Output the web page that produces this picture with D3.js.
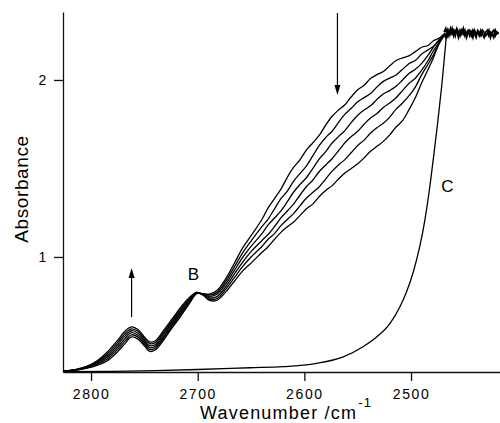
<html>
<head>
<meta charset="utf-8">
<style>
  body { margin: 0; background: #fff; }
  svg { display: block; font-family: "Liberation Sans", Arial, sans-serif; }
  .tick text { font-size: 14px; letter-spacing: 1.6px; fill: #000; }
  .domain, .tick line { stroke: #111; stroke-width: 1.3; }
</style>
</head>
<body>
<script src="https://cdn.jsdelivr.net/npm/d3@7"></script>
<script>
// wavenumber grid (cm-1) shared by the six spectra
const wavenumber = [2826, 2815, 2805, 2795, 2785, 2775, 2768, 2762, 2756, 2750,
  2745, 2740, 2732, 2724, 2716, 2708, 2701, 2695, 2689, 2682,
  2674, 2666, 2658, 2650, 2640, 2634, 2628, 2622, 2616, 2610,
  2604, 2598, 2592, 2586, 2580, 2574, 2568, 2562, 2556, 2550,
  2544, 2538, 2532, 2526, 2520, 2514, 2508, 2502, 2496, 2490,
  2484, 2479, 2474, 2468];

const spectrum1 = [0.355,0.360,0.370,0.386,0.412,0.465,0.512,0.548,0.536,0.498,0.466,0.474,0.530,0.600,0.665,0.735,0.792,0.792,0.790,0.810,0.875,0.960,1.050,1.120,
  1.210,1.277,1.330,1.383,1.450,1.507,1.550,1.605,1.645,1.688,1.745,1.795,1.830,1.860,1.905,1.945,1.970,2.008,2.030,2.048,2.080,2.110,2.125,2.136,2.160,2.185,2.195,2.222,2.235,2.265];
const spectrum2 = [0.355,0.360,0.372,0.391,0.422,0.478,0.526,0.560,0.547,0.508,0.477,0.484,0.540,0.610,0.675,0.742,0.795,0.791,0.784,0.800,0.860,0.940,1.022,1.090,
  1.170,1.214,1.272,1.329,1.372,1.429,1.472,1.515,1.572,1.630,1.675,1.710,1.760,1.807,1.840,1.877,1.900,1.923,1.960,1.992,2.010,2.028,2.060,2.092,2.110,2.147,2.170,2.190,2.225,2.260];
const spectrum3 = [0.355,0.361,0.374,0.396,0.432,0.491,0.540,0.572,0.558,0.518,0.488,0.494,0.551,0.620,0.685,0.750,0.797,0.790,0.777,0.790,0.845,0.920,0.996,1.060,
  1.130,1.181,1.220,1.260,1.312,1.367,1.410,1.449,1.500,1.554,1.595,1.644,1.680,1.714,1.760,1.801,1.830,1.854,1.890,1.921,1.940,1.964,2.000,2.036,2.060,2.094,2.140,2.186,2.220,2.260];
const spectrum4 = [0.355,0.362,0.376,0.401,0.442,0.504,0.554,0.583,0.569,0.528,0.499,0.504,0.563,0.630,0.695,0.756,0.798,0.788,0.769,0.776,0.830,0.900,0.970,1.030,
  1.092,1.127,1.172,1.221,1.260,1.300,1.350,1.398,1.435,1.483,1.520,1.555,1.600,1.645,1.680,1.710,1.750,1.785,1.810,1.845,1.870,1.900,1.940,1.980,2.010,2.055,2.110,2.165,2.210,2.260];
const spectrum5 = [0.355,0.362,0.378,0.406,0.452,0.517,0.568,0.594,0.580,0.538,0.510,0.515,0.574,0.640,0.705,0.763,0.800,0.786,0.762,0.765,0.815,0.880,0.945,1.000,
  1.058,1.100,1.132,1.177,1.212,1.246,1.290,1.333,1.365,1.397,1.440,1.485,1.520,1.550,1.590,1.630,1.660,1.700,1.730,1.755,1.790,1.835,1.870,1.910,1.960,2.030,2.090,2.142,2.205,2.260];
const spectrum6 = [0.355,0.363,0.380,0.411,0.462,0.530,0.582,0.605,0.590,0.548,0.520,0.525,0.585,0.650,0.715,0.770,0.800,0.784,0.755,0.755,0.800,0.860,0.920,0.965,
  1.025,1.058,1.100,1.139,1.170,1.198,1.235,1.272,1.300,1.342,1.375,1.403,1.440,1.474,1.500,1.526,1.560,1.597,1.625,1.653,1.690,1.734,1.770,1.831,1.900,1.984,2.060,2.126,2.200,2.260];

// curve C
const waveC = [2826, 2780, 2740, 2700, 2651, 2620, 2588.5, 2563.5, 2545, 2532, 2519.7, 2510.4, 2504.1, 2497.9, 2491.6, 2487, 2483, 2479, 2475, 2471, 2466.6];
const absC  = [0.352, 0.354, 0.358, 0.364, 0.374, 0.380, 0.399, 0.436, 0.493, 0.549, 0.625, 0.719, 0.805, 0.915, 1.065, 1.210, 1.370, 1.560, 1.760, 1.980, 2.265];

// saturated region (noisy)
const wavePlateau = [2469, 2467.5, 2466, 2464.5, 2463, 2461.5, 2460, 2458.5, 2457, 2455.5, 2454, 2452.5,
  2451, 2449.5, 2448, 2446.5, 2445, 2443.5, 2442, 2440.5, 2439, 2437.5, 2436, 2434.5,
  2433, 2431.5, 2430, 2428.5, 2427, 2425.5, 2424, 2422.5, 2421, 2419.5, 2418];
const plateauA = [2.27,2.29,2.25,2.28,2.26,2.29,2.25,2.28,2.27,2.24,2.28,2.26,2.29,2.25,2.27,2.28,2.25,2.27,2.24,2.28,2.26,2.27,2.25,2.28,2.26,2.24,2.27,2.28,2.25,2.27,2.26,2.24,2.28,2.26,2.27];
const plateauB = [2.26,2.24,2.28,2.25,2.29,2.26,2.28,2.25,2.29,2.27,2.25,2.28,2.26,2.28,2.24,2.27,2.28,2.25,2.28,2.26,2.24,2.28,2.27,2.25,2.28,2.27,2.25,2.26,2.28,2.24,2.27,2.28,2.25,2.27,2.26];

const xTicks = [2800, 2700, 2600, 2500];
const yTicks = [1, 2];

const W = 500, H = 423;
const mLeft = 63, mRight = 500, mTop = 12, mBottom = 372;

const x = d3.scaleLinear().domain([2826.3, 2416.6]).range([mLeft, mRight]);
const y = d3.scaleLinear().domain([0.35, 2.384]).range([mBottom, mTop]);

const svg = d3.select("body").append("svg")
  .attr("width", W)
  .attr("height", H);

// axes
svg.append("g")
  .attr("transform", "translate(0," + mBottom + ")")
  .call(d3.axisBottom(x).tickValues(xTicks).tickSize(9).tickSizeOuter(0).tickPadding(8).tickFormat(d3.format("d")));

svg.append("g")
  .attr("transform", "translate(" + mLeft + ",0)")
  .call(d3.axisLeft(y).tickValues(yTicks).tickSize(9).tickSizeOuter(0).tickPadding(6).tickFormat(d3.format("d")));

const line = d3.line()
  .x(d => x(d[0]))
  .y(d => y(d[1]))
  .curve(d3.curveCatmullRom.alpha(0.5));

const spectra = [spectrum1, spectrum2, spectrum3, spectrum4, spectrum5, spectrum6];

spectra.forEach(s => {
  svg.append("path")
    .datum(wavenumber.map((w, i) => [w, s[i]]))
    .attr("d", line)
    .attr("fill", "none")
    .attr("stroke", "#000")
    .attr("stroke-width", 1.3);
});

svg.append("path")
  .datum(waveC.map((w, i) => [w, absC[i]]))
  .attr("d", d3.line().x(d => x(d[0])).y(d => y(d[1])).curve(d3.curveMonotoneX))
  .attr("fill", "none")
  .attr("stroke", "#000")
  .attr("stroke-width", 1.3);

[plateauA, plateauB].forEach(p => {
  svg.append("path")
    .datum(wavePlateau.map((w, i) => [w, p[i]]))
    .attr("d", d3.line().x(d => x(d[0])).y(d => y(d[1])))
    .attr("fill", "none")
    .attr("stroke", "#000")
    .attr("stroke-width", 1.8);
});

// arrows
function arrow(w, a0, a1) {
  const x0 = x(w), y0 = y(a0), y1 = y(a1);
  const dir = y1 < y0 ? 1 : -1;
  svg.append("line")
    .attr("x1", x0).attr("y1", y0)
    .attr("x2", x0).attr("y2", y1 + dir * 8)
    .attr("stroke", "#000").attr("stroke-width", 1.2);
  svg.append("path")
    .attr("d", "M" + x0 + "," + y1 + "L" + (x0 - 3) + "," + (y1 + dir * 10) + "L" + (x0 + 3) + "," + (y1 + dir * 10) + "Z")
    .attr("fill", "#000");
}
arrow(2762, 0.66, 0.938);
arrow(2569, 2.378, 1.915);

// peak labels
svg.append("text")
  .attr("x", x(2704)).attr("y", y(0.87))
  .attr("text-anchor", "middle")
  .attr("font-size", 17)
  .text("B");

svg.append("text")
  .attr("x", x(2466)).attr("y", y(1.365))
  .attr("text-anchor", "middle")
  .attr("font-size", 17)
  .text("C");

// axis titles
svg.append("text")
  .attr("transform", "translate(28,189) rotate(-90)")
  .attr("text-anchor", "middle")
  .attr("font-size", 19)
  .attr("letter-spacing", 0.6)
  .text("Absorbance");

const xt = svg.append("text")
  .attr("x", 200).attr("y", 419)
  .attr("font-size", 18)
  .attr("letter-spacing", 1.2);
xt.append("tspan").text("Wavenumber /cm");
xt.append("tspan").attr("font-size", 13).attr("dy", -12).attr("dx", 1).text("-1");
</script>
</body>
</html>
